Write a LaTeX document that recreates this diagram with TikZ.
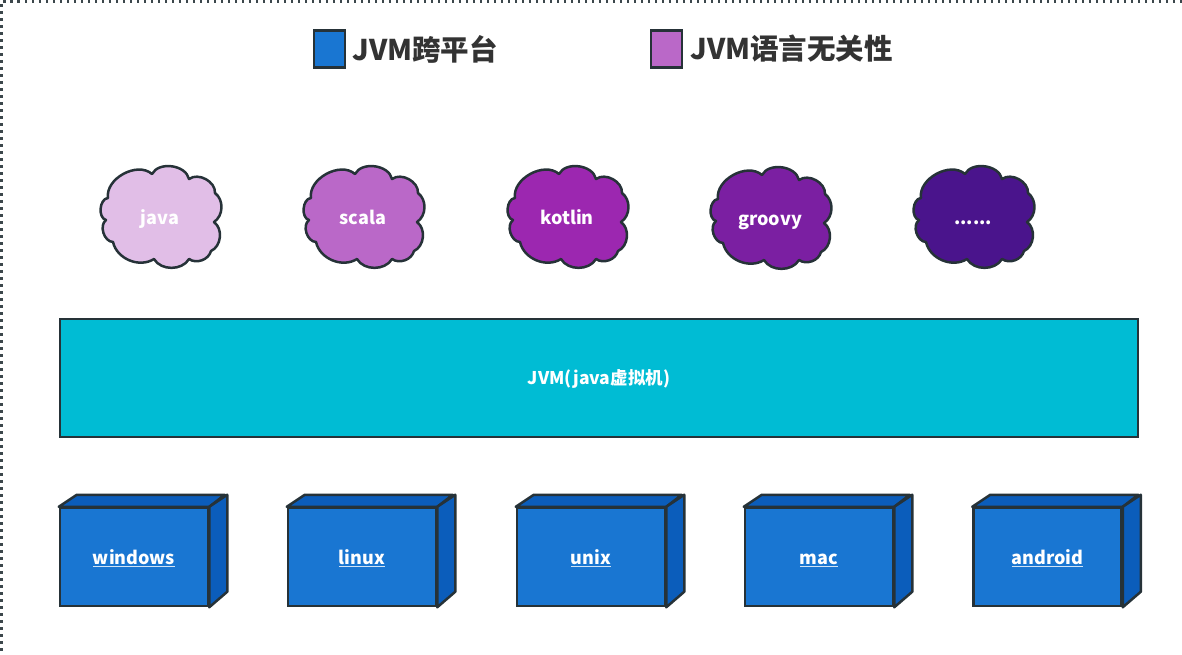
\documentclass[tikz,border=0pt]{standalone}
\usepackage{fontspec}
\setmainfont{Noto Sans CJK SC}
\definecolor{edge}{HTML}{263238}
\definecolor{txt}{HTML}{333333}
\definecolor{osblue}{HTML}{1976D2}
\definecolor{osdark}{HTML}{0B5DBB}
\definecolor{jvmc}{HTML}{00BCD4}
\definecolor{pa}{HTML}{E1BEE7}
\definecolor{pb}{HTML}{BA68C8}
\definecolor{pc}{HTML}{9C27B0}
\definecolor{pd}{HTML}{7B1FA2}
\definecolor{pe}{HTML}{4A148C}
\tikzset{
  cloudline/.style={draw=edge, line width=2.5pt, line join=round},
  langtxt/.style={inner sep=0pt, text=white, text height=13pt, text depth=0pt,
    font=\bfseries\fontsize{18}{21}\selectfont},
  osbox/.style={rectangle, draw=edge, fill=osblue, line width=2.5pt,
    minimum width=148pt, minimum height=98pt, inner sep=0pt, text=white,
    text height=14pt, text depth=0pt,
    font=\bfseries\fontsize{18}{21}\selectfont},
  osside/.style={draw=edge, fill=osdark, line width=2.5pt, line join=round},
  legbox/.style={rectangle, draw=edge, line width=2.5pt, minimum width=31pt,
    minimum height=37pt, inner sep=0pt},
  legtxt/.style={anchor=west, text=txt, inner sep=0pt,
    font=\bfseries\fontsize{28.5}{32}\selectfont},
  border/.style={draw=edge!90, line width=2.5pt, dash pattern=on 2.5pt off 4.5pt}
}
\newcommand{\myul}[1]{{\setbox0\hbox{#1}\rlap{\color{white!80!osblue}\rule[-3pt]{\wd0}{1.2pt}}\box0}}
\newcommand{\cloudat}[3]{%
  \begin{scope}[shift={(#2,#3)}, yscale=-1]
    \path[cloudline, fill=#1] (-52,19) to[bend right=70] (-8,43) to[bend right=70] (29,38)
      to[bend right=65] (55,24) to[bend right=55] (54,-5) to[bend right=60] (51,-34)
      to[bend right=55] (29,-42) to[bend right=60] (-6,-42) to[bend right=55] (-47,-25)
      to[bend right=70] (-54,-3) to[bend right=80] (-52,19) -- cycle;
  \end{scope}}
\newcommand{\osnode}[3]{%
  \node[osbox] (#1) at (#2,557) {\myul{#3}};
  \draw[osside] (#1.north west) -- ++(18,-12) -- ++(148,0) -- (#1.north east) -- cycle;
  \draw[osside] (#1.north east) -- ++(18,-12) -- ++(0,97) -- (#1.south east) -- cycle;
}
\begin{document}
\begin{tikzpicture}[x=1pt, y=-1pt]
\useasboundingbox (0,0) rectangle (1182,654);
\coordinate (tl) at (1.5,1.5);
\coordinate (tr) at (1182,1.5);
\coordinate (bl) at (1.5,654);
\draw[border] (tr) -- (tl) -- (bl);
% legend
\node[legbox, fill=osblue] (lega) at (329.5,49) {};
\node[legtxt, right=6pt] (legat) at (lega.east) {JVM跨平台};
\node[legbox, fill=pb] (legb) at (666.5,49) {};
\node[legtxt, right=7pt] (legbt) at (legb.east) {JVM语言无关性};
% languages
\cloudat{pa}{160}{217}
\node[langtxt] (java) at (160,218) {java};
\cloudat{pb}{363}{217}
\node[langtxt] (scala) at (363,218) {scala};
\cloudat{pc}{567}{217}
\node[langtxt] (kotlin) at (567,218) {kotlin};
\cloudat{pd}{770}{218}
\node[langtxt] (groovy) at (770,219) {groovy};
\cloudat{pe}{973}{217}
\node[langtxt] (more) at (973,218) {......};
% JVM
\node[rectangle, draw=edge, fill=jvmc, line width=2.5pt, minimum width=1078pt,
  minimum height=118pt, text=white, text height=13pt, text depth=0pt,
  font=\bfseries\fontsize{17.5}{20}\selectfont]
  (jvm) at (599,378) {JVM(java虚拟机)};
% operating systems
\osnode{windows}{134}{windows}
\osnode{linux}{362}{linux}
\osnode{unix}{591}{unix}
\osnode{mac}{819}{mac}
\osnode{android}{1047.5}{android}
\end{tikzpicture}
\end{document}
